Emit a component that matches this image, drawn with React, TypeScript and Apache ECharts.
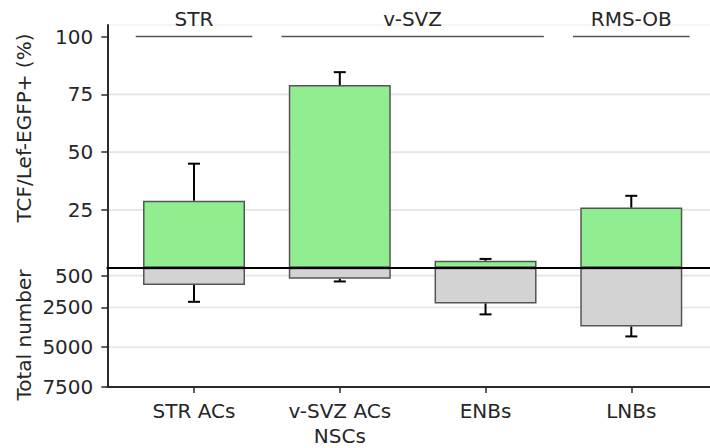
import React, { useEffect, useRef } from "react";
import * as echarts from "echarts";

// ---- data ----
const categories = ["STR ACs", "v-SVZ ACs\nNSCs", "ENBs", "LNBs"];
const pctValues = [29, 79, 3, 26];
const pctErrTop = [45, 84.6, 3.8, 31.1];
const totalValues = [1090, 700, 2250, 3700];
const totalErrBottom = [2145, 865, 2935, 4320];
const pctTicks = [25, 50, 75, 100];
const pctGridLines = [25, 50, 75];
const totalTicks = [500, 2500, 5000, 7500];
const totalGridLines = [500, 2500, 5000];
const groupNames = ["STR", "v-SVZ", "RMS-OB"];
const groupStart = [-0.4, 0.6, 2.6];
const groupEnd = [0.4, 2.4, 3.4];
const groupLevel = 100;
const pctAxisName = "TCF/Lef-EGFP+ (%)";
const totalAxisName = "Total number";

const FONT = "DejaVu Sans";
const FS = 20;
const TEXT = "#262626";
const AXIS = "#2b2b2b";
const XMIN = -0.595;
const XMAX = 3.54;

function gridLineSeries(values: number[], idx: number) {
  return {
    type: "custom",
    xAxisIndex: idx,
    yAxisIndex: idx,
    z: 1,
    silent: true,
    data: values.map((v) => [0, v]),
    renderItem: (params: any, api: any) => {
      const cs = params.coordSys;
      const p = api.coord([0, api.value(1)]);
      return {
        type: "line",
        shape: { x1: cs.x, y1: p[1], x2: cs.x + cs.width, y2: p[1] },
        style: { stroke: "#e4e4e4", lineWidth: 1.6 },
      };
    },
  };
}

function errorSeries(vals: number[], errs: number[], idx: number) {
  return {
    type: "custom",
    xAxisIndex: idx,
    yAxisIndex: idx,
    z: 3,
    silent: true,
    encode: { x: 0, y: [1, 2] },
    data: vals.map((v, i) => [i, v, errs[i]]),
    renderItem: (params: any, api: any) => {
      const p0 = api.coord([api.value(0), api.value(1)]);
      const p1 = api.coord([api.value(0), api.value(2)]);
      return {
        type: "group",
        children: [
          {
            type: "line",
            shape: { x1: p0[0], y1: p0[1], x2: p1[0], y2: p1[1] },
            style: { stroke: "#000", lineWidth: 2 },
          },
          {
            type: "line",
            shape: { x1: p1[0] - 6, y1: p1[1], x2: p1[0] + 6, y2: p1[1] },
            style: { stroke: "#000", lineWidth: 2 },
          },
        ],
      };
    },
  };
}

const yLabel = {
  fontFamily: FONT,
  fontSize: FS,
  color: TEXT,
  margin: 14,
  formatter: (v: number) => String(v),
};

export default function App() {
  const ref = useRef<HTMLDivElement>(null);
  useEffect(() => {
    if (!ref.current) return;
    const chart = echarts.init(ref.current, null, { renderer: "svg" });
    const option: any = {
      animation: false,
      backgroundColor: "#ffffff",
      grid: [
        { left: 107.3, right: 0, top: 25, height: 242.7 },
        { left: 107.3, right: 0, top: 267.7, height: 120.6 },
      ],
      xAxis: [
        {
          type: "value",
          gridIndex: 0,
          min: XMIN,
          max: XMAX,
          z: 10,
          axisLine: { onZero: true, lineStyle: { color: "#000", width: 2 } },
          axisTick: { show: false },
          axisLabel: { show: false },
          splitLine: { show: false },
        },
        {
          type: "value",
          gridIndex: 1,
          min: XMIN,
          max: XMAX,
          position: "bottom",
          z: 10,
          axisLine: { onZero: false, lineStyle: { color: AXIS, width: 2 } },
          axisTick: {
            customValues: [0, 1, 2, 3],
            length: 6,
            lineStyle: { color: AXIS, width: 1.5 },
          },
          axisLabel: {
            customValues: [0, 1, 2, 3],
            formatter: (v: number) => categories[Math.round(v)],
            fontFamily: FONT,
            fontSize: FS,
            color: TEXT,
            lineHeight: 25,
            margin: 11,
          },
          splitLine: { show: false },
        },
        {
          type: "value",
          gridIndex: 0,
          min: XMIN,
          max: XMAX,
          position: "top",
          z: 0,
          axisLine: { show: true, onZero: false, lineStyle: { color: "#f2f2f2", width: 1.5 } },
          axisTick: { show: false },
          axisLabel: { show: false },
          splitLine: { show: false },
        },
      ],
      yAxis: [
        {
          type: "value",
          gridIndex: 0,
          min: 0,
          max: 105,
          z: 10,
          axisLine: { show: true, onZero: false, lineStyle: { color: AXIS, width: 2 } },
          axisTick: {
            show: true,
            customValues: pctTicks,
            length: 6,
            lineStyle: { color: AXIS, width: 1.5 },
          },
          axisLabel: { ...yLabel, customValues: pctTicks },
          splitLine: { show: false },
        },
        {
          type: "value",
          gridIndex: 1,
          min: 0,
          max: 7500,
          inverse: true,
          z: 10,
          axisLine: { show: true, onZero: false, lineStyle: { color: AXIS, width: 2 } },
          axisTick: {
            show: true,
            customValues: totalTicks,
            length: 6,
            lineStyle: { color: AXIS, width: 1.5 },
          },
          axisLabel: { ...yLabel, customValues: totalTicks },
          splitLine: { show: false },
        },
      ],
      graphic: [
        {
          type: "text",
          x: 24,
          y: 128,
          rotation: Math.PI / 2,
          style: {
            text: pctAxisName,
            fontFamily: FONT,
            fontSize: FS,
            fill: TEXT,
            align: "center",
            verticalAlign: "middle",
          },
        },
        {
          type: "text",
          x: 24,
          y: 335,
          rotation: Math.PI / 2,
          style: {
            text: totalAxisName,
            fontFamily: FONT,
            fontSize: FS,
            fill: TEXT,
            align: "center",
            verticalAlign: "middle",
          },
        },
      ],
      series: [
        gridLineSeries(pctGridLines, 0),
        gridLineSeries(totalGridLines, 1),
        {
          type: "bar",
          xAxisIndex: 0,
          yAxisIndex: 0,
          z: 2,
          barWidth: 102,
          data: pctValues.map((v, i) => [i, v]),
          itemStyle: { color: "#90ee90", borderColor: "#555", borderWidth: 1.5 },
        },
        {
          type: "bar",
          xAxisIndex: 1,
          yAxisIndex: 1,
          z: 2,
          barWidth: 102,
          data: totalValues.map((v, i) => [i, v]),
          itemStyle: { color: "#d3d3d3", borderColor: "#555", borderWidth: 1.5 },
        },
        errorSeries(pctValues, pctErrTop, 0),
        errorSeries(totalValues, totalErrBottom, 1),
        {
          type: "custom",
          xAxisIndex: 0,
          yAxisIndex: 0,
          z: 4,
          silent: true,
          clip: false,
          encode: { x: [0, 1], y: 2 },
          data: groupNames.map((n, i) => [groupStart[i], groupEnd[i], groupLevel, i]),
          renderItem: (params: any, api: any) => {
            const a = api.coord([api.value(0), api.value(2)]);
            const b = api.coord([api.value(1), api.value(2)]);
            const name = groupNames[api.value(3)];
            return {
              type: "group",
              children: [
                {
                  type: "line",
                  shape: { x1: a[0], y1: a[1], x2: b[0], y2: b[1] },
                  style: { stroke: "#555", lineWidth: 1.5 },
                },
                {
                  type: "text",
                  style: {
                    text: name,
                    x: (a[0] + b[0]) / 2,
                    y: a[1] - 17.5,
                    align: "center",
                    verticalAlign: "middle",
                    fontFamily: FONT,
                    fontSize: FS,
                    fill: TEXT,
                  },
                },
              ],
            };
          },
        },
      ],
    };
    chart.setOption(option);
    return () => chart.dispose();
  }, []);
  return (
    <div
      ref={ref}
      style={{ position: "fixed", left: 0, top: 0, width: 710, height: 448 }}
    />
  );
}
